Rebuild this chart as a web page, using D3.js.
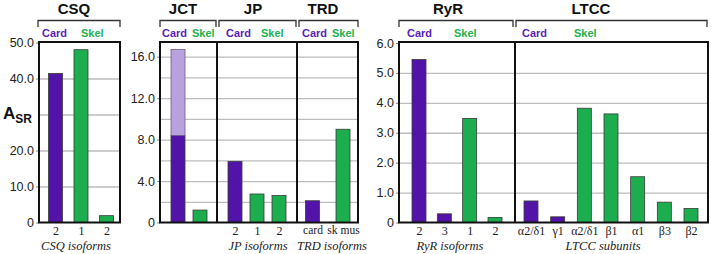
<!DOCTYPE html>
<html>
<head>
<meta charset="utf-8">
<script src="https://cdn.jsdelivr.net/npm/d3@7"></script>
<style>
  body { margin: 0; background: #fff; }
  svg { display: block; }
  text { font-family: "Liberation Sans", Arial, sans-serif; }
  .serif { font-family: "Liberation Serif", "Times New Roman", serif; }
</style>
</head>
<body>
<div id="chart"></div>
<script>
const width = 711,
    height = 254

const colors = {
    card: "#5214a8",
    cardLight: "#b8a2dd",
    skel: "#1cae4e",
    cardText: "#5a1fb8",
    skelText: "#22b24e",
    grid: "#bdbdbd"
}

// data
const csqIsoforms = ["2", "1", "2"]
const csqValues = [41.4, 48.0, 1.9]
const csqTissue = ["card", "skel", "skel"]

const jctCats = ["card", "skel"]
const jctValues = [8.4, 1.2]
const jctExtra = [8.3, 0]   // light purple on top of the cardiac bar

const jpIsoforms = ["2", "1", "2"]
const jpValues = [5.9, 2.75, 2.6]
const jpTissue = ["card", "skel", "skel"]

const trdIsoforms = ["card", "sk mus"]
const trdValues = [2.1, 9.0]
const trdTissue = ["card", "skel"]

const ryrIsoforms = ["2", "3", "1", "2"]
const ryrValues = [5.45, 0.29, 3.48, 0.17]
const ryrTissue = ["card", "card", "skel", "skel"]

const ltccSubunits = ["α2/δ1", "γ1", "α2/δ1", "β1", "α1", "β3", "β2"]
const ltccValues = [0.72, 0.19, 3.82, 3.63, 1.53, 0.68, 0.47]
const ltccTissue = ["card", "card", "skel", "skel", "skel", "skel", "skel"]

const csqTicks = [0, 10, 20, 40, 50]
const jctTicks = [0, 4, 8, 12, 16]
const ryrTicks = [0, 1, 2, 3, 4, 5, 6]

const boxTop = 42, boxBottom = 222.5

const svg = d3.select("#chart")
    .append("svg")
        .attr("width", width)
        .attr("height", height)

const yCsq = d3.scaleLinear().domain([0, 50]).range([boxBottom, 42.5])
const yJct = d3.scaleLinear().domain([0, 17.42]).range([boxBottom, boxTop])
const yRyr = d3.scaleLinear().domain([0, 6]).range([boxBottom, 43])

const fmt = d => d === 0 ? "0" : d3.format(".1f")(d)

// one entry per boxed group with its own y axis
const groups = [
    { x0: 39, x1: 120, y: yCsq, ticks: csqTicks, grid: d3.range(10, 50, 10) },
    { x0: 160, x1: 358, y: yJct, ticks: jctTicks, grid: d3.range(2, 17, 2), dividers: [217, 297] },
    { x0: 399, x1: 708, y: yRyr, ticks: ryrTicks, grid: d3.range(1, 6, 1), dividers: [515] }
]

const panels = [
    { title: "CSQ", titleX: 74, x0: 39, x1: 120, br: [38, 120], y: yCsq, cats: csqIsoforms, vals: csqValues, tissue: csqTissue,
      cardX: 42, skelX: 81, xLabel: "CSQ isoforms", xLabelX: 76, pad: [4.5, 1.5] },
    { title: "JCT", titleX: 183, x0: 160, x1: 217, br: [160, 216], y: yJct, cats: jctCats, vals: jctValues, tissue: ["card", "skel"],
      extra: jctExtra, cardX: 162, skelX: 192, xLabel: null, pad: [6, 5], noTicks: true },
    { title: "JP", titleX: 253, x0: 217, x1: 297, br: [219, 296], y: yJct, cats: jpIsoforms, vals: jpValues, tissue: jpTissue,
      cardX: 226, skelX: 261, xLabel: "JP isoforms", xLabelX: 258, pad: [6, 6] },
    { title: "TRD", titleX: 323, x0: 297, x1: 358, br: [299, 358], y: yJct, cats: trdIsoforms, vals: trdValues, tissue: trdTissue,
      cardX: 302, skelX: 332, xLabel: "TRD isoforms", xLabelX: 332, pad: [3.5, 3], tickSize: 11.5 },
    { title: "RyR", titleX: 448, x0: 399, x1: 515, br: [399, 513], y: yRyr, cats: ryrIsoforms, vals: ryrValues, tissue: ryrTissue,
      cardX: 407, skelX: 454, xLabel: "RyR isoforms", xLabelX: 450, pad: [8, 8] },
    { title: "LTCC", titleX: 591, x0: 515, x1: 708, br: [516, 707], y: yRyr, cats: ltccSubunits, vals: ltccValues, tissue: ltccTissue,
      cardX: 522, skelX: 574, xLabel: "LTCC subunits", xLabelX: 603, pad: [4, 5] }
]

const barW = 14

// gridlines + y axes
groups.forEach(g => {
    const grid = svg.append("g")
        .attr("transform", `translate(${g.x0},0)`)
        .call(d3.axisLeft(g.y).tickValues(g.grid).tickSize(-(g.x1 - g.x0)).tickFormat(""))
    grid.select(".domain").remove()
    grid.selectAll("line").attr("stroke", colors.grid).attr("stroke-width", 1.3)

    const ax = svg.append("g")
        .attr("transform", `translate(${g.x0},0)`)
        .call(d3.axisLeft(g.y).tickValues(g.ticks).tickSize(3).tickPadding(2).tickFormat(fmt))
    ax.select(".domain").remove()
    ax.selectAll("line").attr("stroke", "#888")
    ax.selectAll("text")
        .attr("font-size", 12.5)
        .attr("fill", "#222")
        .style("font-family", "'Liberation Sans', Arial, sans-serif")
})

panels.forEach(p => {
    const x = d3.scalePoint()
        .domain(d3.range(p.cats.length))
        .range([p.x0 + p.pad[0] + barW / 2 + 5, p.x1 - p.pad[1] - barW / 2 - 5])
        .padding(0)

    const bars = svg.append("g")
    bars.selectAll("rect.main")
        .data(p.vals)
        .enter()
        .append("rect")
            .attr("class", "main")
            .attr("x", (d, i) => x(i) - barW / 2)
            .attr("y", d => p.y(d))
            .attr("width", barW)
            .attr("height", d => p.y(0) - p.y(d))
            .attr("fill", (d, i) => p.tissue[i] === "card" ? colors.card : colors.skel)
            .attr("stroke", "#3a3a3a")
            .attr("stroke-width", 0.8)

    if (p.extra) {
        bars.selectAll("rect.extra")
            .data(p.extra.filter(d => d > 0))
            .enter()
            .append("rect")
                .attr("x", (d, i) => x(i) - barW / 2)
                .attr("y", (d, i) => p.y(p.vals[i] + d))
                .attr("width", barW)
                .attr("height", (d, i) => p.y(p.vals[i]) - p.y(p.vals[i] + d))
                .attr("fill", colors.cardLight)
                .attr("stroke", "#6a5a8a")
                .attr("stroke-width", 0.8)
    }

    // x tick labels
    if (!p.noTicks) {
        const xa = svg.append("g")
            .attr("transform", `translate(0,${boxBottom})`)
            .call(d3.axisBottom(x).tickSize(0).tickPadding(3.5).tickFormat(i => p.cats[i]))
        xa.select(".domain").remove()
        xa.selectAll("text")
            .attr("font-size", p.tickSize || 12)
            .attr("fill", "#222")
            .style("font-family", "'Liberation Serif', 'Times New Roman', serif")
    }

    if (p.xLabel) {
        svg.append("text")
            .attr("class", "serif")
            .attr("x", p.xLabelX)
            .attr("y", 250)
            .attr("text-anchor", "middle")
            .attr("font-size", 12.5)
            .attr("font-style", "italic")
            .attr("fill", "#222")
            .text(p.xLabel)
    }

    // title + bracket
    svg.append("text")
        .attr("x", p.titleX)
        .attr("y", 14)
        .attr("text-anchor", "middle")
        .attr("font-size", 15)
        .attr("font-weight", "bold")
        .attr("fill", "#111")
        .text(p.title)

    svg.append("path")
        .attr("d", `M${p.br[0]},27V20.5H${p.br[1]}V27`)
        .attr("fill", "none")
        .attr("stroke", "#333")
        .attr("stroke-width", 1.3)

    svg.append("text")
        .attr("x", p.cardX)
        .attr("y", 37)
        .attr("font-size", 11)
        .attr("font-weight", "bold")
        .attr("fill", colors.cardText)
        .text("Card")

    svg.append("text")
        .attr("x", p.skelX)
        .attr("y", 37)
        .attr("font-size", 11)
        .attr("font-weight", "bold")
        .attr("fill", colors.skelText)
        .text("Skel")
})

// boxes
groups.forEach(g => {
    svg.append("rect")
        .attr("x", g.x0)
        .attr("y", boxTop)
        .attr("width", g.x1 - g.x0)
        .attr("height", boxBottom - boxTop)
        .attr("fill", "none")
        .attr("stroke", "#111")
        .attr("stroke-width", 2)
    ;(g.dividers || []).forEach(dx => {
        svg.append("line")
            .attr("x1", dx).attr("x2", dx)
            .attr("y1", boxTop).attr("y2", boxBottom)
            .attr("stroke", "#111")
            .attr("stroke-width", 2)
    })
})

// y axis title
const yt = svg.append("text")
    .attr("x", 3)
    .attr("y", 119)
    .attr("font-weight", "bold")
    .attr("fill", "#111")
yt.append("tspan").attr("font-size", 17).text("A")
yt.append("tspan").attr("font-size", 12).attr("dy", 4).text("SR")
</script>
</body>
</html>
